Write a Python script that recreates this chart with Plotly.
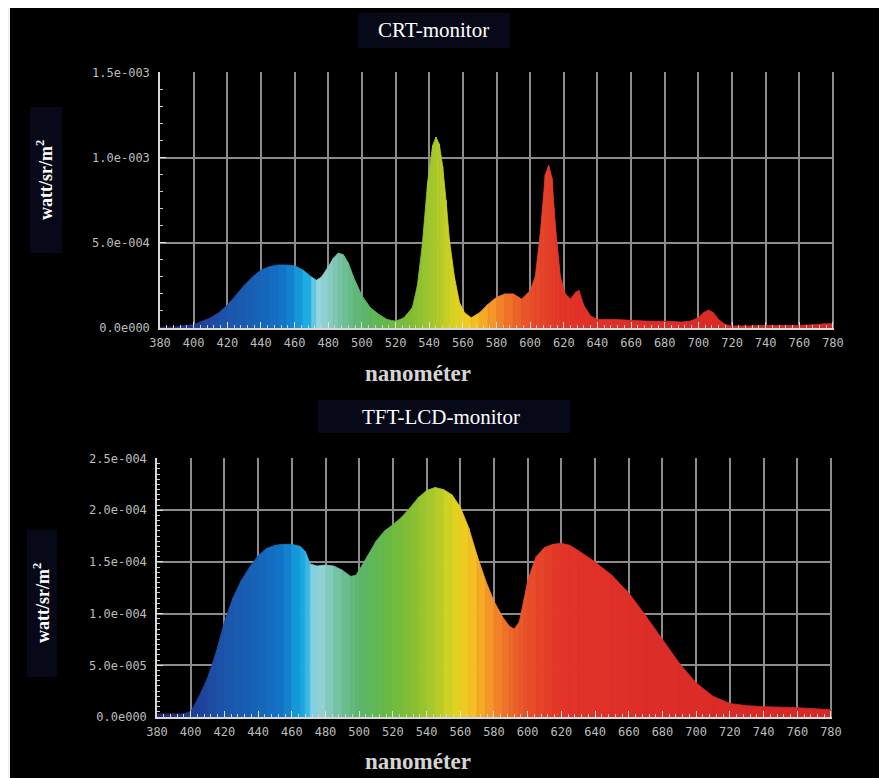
import plotly.graph_objects as go

# ---------------- data ----------------
crt_nm = [380,390,400,405,410,415,420,425,430,435,440,445,450,455,460,465,470,473,476,480,
          483,486,489,492,495,500,505,510,515,520,525,530,533,536,539,542,544,546,548,550,
          552,555,558,561,565,570,575,580,585,590,595,600,603,606,609,611,613,615,618,621,
          624,627,629,632,636,640,650,660,670,680,690,695,700,703,706,709,712,716,720,730,
          740,750,760,770,775,780]
crt_val = [0.005,0.008,0.02,0.04,0.06,0.09,0.135,0.19,0.25,0.3,0.34,0.36,0.37,0.37,0.365,0.34,0.3,0.28,0.3,0.36,
           0.41,0.44,0.43,0.38,0.3,0.19,0.12,0.08,0.05,0.04,0.06,0.12,0.25,0.5,0.85,1.07,1.12,1.08,0.95,0.75,
           0.52,0.3,0.15,0.09,0.06,0.09,0.14,0.18,0.2,0.2,0.17,0.22,0.3,0.55,0.9,0.955,0.88,0.6,0.3,0.2,
           0.17,0.21,0.22,0.13,0.07,0.05,0.05,0.045,0.04,0.04,0.035,0.04,0.06,0.09,0.105,0.09,0.05,0.02,0.012,0.012,
           0.015,0.015,0.015,0.02,0.025,0.025]
crt_val = [v * 1e-3 for v in crt_val]

tft_nm = [380,390,395,400,405,410,415,420,425,430,435,440,445,450,455,460,465,468,471,475,
          480,485,490,495,498,500,505,510,515,520,525,530,535,540,545,550,555,560,565,570,
          575,580,585,589,592,595,598,600,605,610,615,620,625,630,640,650,660,670,680,690,
          700,710,720,730,740,750,760,770,780]
tft_val = [0.03,0.03,0.03,0.05,0.2,0.38,0.62,0.92,1.15,1.32,1.45,1.56,1.63,1.66,1.67,1.67,1.65,1.6,1.48,1.46,
           1.47,1.46,1.42,1.36,1.37,1.42,1.56,1.7,1.8,1.86,1.93,2.02,2.12,2.19,2.22,2.2,2.15,2.03,1.83,1.56,
           1.32,1.12,0.97,0.88,0.85,0.92,1.15,1.32,1.55,1.64,1.67,1.68,1.66,1.61,1.5,1.37,1.2,0.98,0.75,0.52,
           0.33,0.2,0.13,0.11,0.1,0.095,0.09,0.08,0.07]
tft_val = [v * 1e-4 for v in tft_val]

x_ticks = list(range(380, 781, 20))
x_ticklabels = [str(v) for v in x_ticks]
crt_yticks = [0, 5e-4, 1e-3, 1.5e-3]
crt_yticklabels = ["0.0e000", "5.0e-004", "1.0e-003", "1.5e-003"]
tft_yticks = [0, 5e-5, 1e-4, 1.5e-4, 2e-4, 2.5e-4]
tft_yticklabels = ["0.0e000", "5.0e-005", "1.0e-004", "1.5e-004", "2.0e-004", "2.5e-004"]

titles = ["CRT-monitor", "TFT-LCD-monitor"]
x_title = "nanométer"
y_title = "watt/sr/m<sup>2</sup>"

# ---------------- styling ----------------
# page body has an 8px margin; figure fills the rest of the 887x778 window
OFF = 8
W, H = 887 - OFF, 778 - OFF
def px(x): return (x - OFF) / W          # reference-window pixel -> paper
def py(y): return 1 - (y - OFF) / H

spectrum_stops = [
    (380, (45, 35, 100)), (400, (30, 60, 150)), (420, (28, 85, 170)), (440, (22, 100, 185)),
    (455, (18, 118, 200)), (462, (20, 150, 215)), (468, (30, 175, 228)), (474, (150, 215, 225)),
    (480, (140, 205, 200)), (490, (110, 192, 150)), (500, (92, 182, 110)), (515, (100, 185, 72)),
    (530, (130, 190, 52)), (545, (172, 202, 42)), (555, (218, 212, 32)), (565, (245, 200, 32)),
    (575, (245, 160, 40)), (585, (240, 120, 42)), (600, (232, 78, 42)), (620, (226, 52, 40)),
    (660, (222, 46, 40)), (780, (215, 40, 40)),
]

def spec_color(lam):
    for (l0, c0), (l1, c1) in zip(spectrum_stops[:-1], spectrum_stops[1:]):
        if l0 <= lam <= l1:
            t = (lam - l0) / (l1 - l0)
            c = [round(a + (b - a) * t) for a, b in zip(c0, c1)]
            return "rgb(%d,%d,%d)" % tuple(c)
    return "rgb(%d,%d,%d)" % spectrum_stops[-1][1]

fig = go.Figure()

def add_spectrum(nm, val, xa, ya):
    for i in range(len(nm) - 1):
        col = spec_color((nm[i] + nm[i + 1]) / 2)
        fig.add_trace(go.Scatter(
            x=[nm[i], nm[i + 1], nm[i + 1], nm[i], nm[i]],
            y=[0, 0, val[i + 1], val[i], 0],
            fill="toself", fillcolor=col, mode="lines",
            line=dict(color=col, width=0.8),
            xaxis=xa, yaxis=ya, showlegend=False, hoverinfo="skip"))

add_spectrum(crt_nm, crt_val, "x", "y")
add_spectrum(tft_nm, tft_val, "x2", "y2")

xtickfont = dict(family="DejaVu Sans Mono", size=12, color="#bcbcbc")
ytickfont = dict(family="DejaVu Sans Mono", size=12, color="#bcbcbc")
grid_col = "#8c8c8c"

xcommon = dict(range=[380, 780.6], tickvals=x_ticks, ticktext=x_ticklabels,
               showgrid=True, gridcolor=grid_col, gridwidth=1.5,
               showline=True, linecolor="#d8d8d8", linewidth=1.5,
               ticks="inside", ticklen=6, tickcolor="#e0e0e0", tickwidth=1,
               minor=dict(dtick=4, ticks="inside", ticklen=3, tickcolor="#d0d0d0", showgrid=False),
               tickfont=xtickfont, zeroline=False, fixedrange=True, ticklabelstandoff=3,
               automargin=False)
ycommon = dict(showgrid=True, gridcolor=grid_col, gridwidth=1.5,
               showline=True, linecolor="#d8d8d8", linewidth=1.5,
               ticks="inside", ticklen=6, tickcolor="#e0e0e0", tickwidth=1,
               tickfont=ytickfont, zeroline=False, fixedrange=True, ticklabelstandoff=6,
               automargin=False)

fig.update_layout(
    width=W, height=H,
    margin=dict(l=0, r=0, t=0, b=0, autoexpand=False),
    paper_bgcolor="#000000", plot_bgcolor="#000000",
    showlegend=False,
    xaxis=dict(domain=[px(160), px(834)], anchor="y", **xcommon),
    yaxis=dict(domain=[py(328), py(72)], anchor="x", range=[0, 1.5e-3 * 1.002],
               tickvals=crt_yticks, ticktext=crt_yticklabels,
               minor=dict(dtick=1e-4, ticks="inside", ticklen=3, tickcolor="#d0d0d0", showgrid=False),
               **ycommon),
    xaxis2=dict(domain=[px(157), px(832)], anchor="y2", **xcommon),
    yaxis2=dict(domain=[py(717), py(458)], anchor="x2", range=[0, 2.5e-4 * 1.002],
                tickvals=tft_yticks, ticktext=tft_yticklabels,
                minor=dict(dtick=5e-6, ticks="inside", ticklen=3, tickcolor="#d0d0d0", showgrid=False),
                **ycommon),
)

navy = "#070919"
shapes = [
    # extra light frame strip at far left
    dict(type="rect", xref="paper", yref="paper", x0=0, x1=2 / W, y0=0, y1=1,
         fillcolor="#f0f0f0", line=dict(width=0), layer="above"),
    # title / label boxes
    dict(type="rect", xref="paper", yref="paper", x0=px(358), x1=px(510), y0=py(48), y1=py(13),
         fillcolor=navy, line=dict(width=0), layer="below"),
    dict(type="rect", xref="paper", yref="paper", x0=px(318), x1=px(570), y0=py(433), y1=py(400),
         fillcolor=navy, line=dict(width=0), layer="below"),
    dict(type="rect", xref="paper", yref="paper", x0=px(30), x1=px(62), y0=py(253), y1=py(107),
         fillcolor=navy, line=dict(width=0), layer="below"),
    dict(type="rect", xref="paper", yref="paper", x0=px(27), x1=px(57), y0=py(677), y1=py(530),
         fillcolor=navy, line=dict(width=0), layer="below"),
]
fig.update_layout(shapes=shapes)

serif = "Liberation Serif"
ann = [
    dict(text=titles[0], x=px(433), y=py(30), font=dict(family=serif, size=21, color="#ffffff")),
    dict(text=titles[1], x=px(441), y=py(417), font=dict(family=serif, size=21, color="#ffffff")),
    dict(text="<b>" + y_title + "</b>", x=px(45), y=py(180), textangle=-90,
         font=dict(family=serif, size=18, color="#ffffff")),
    dict(text="<b>" + y_title + "</b>", x=px(41), y=py(603), textangle=-90,
         font=dict(family=serif, size=18, color="#ffffff")),
    dict(text="<b>" + x_title + "</b>", x=px(418), y=py(373),
         font=dict(family=serif, size=23, color="#d4d4d4")),
    dict(text="<b>" + x_title + "</b>", x=px(418), y=py(761),
         font=dict(family=serif, size=23, color="#d4d4d4")),
]
for a in ann:
    a.update(xref="paper", yref="paper", showarrow=False, xanchor="center", yanchor="middle")
fig.update_layout(annotations=ann)

fig.write_html("out.html")
